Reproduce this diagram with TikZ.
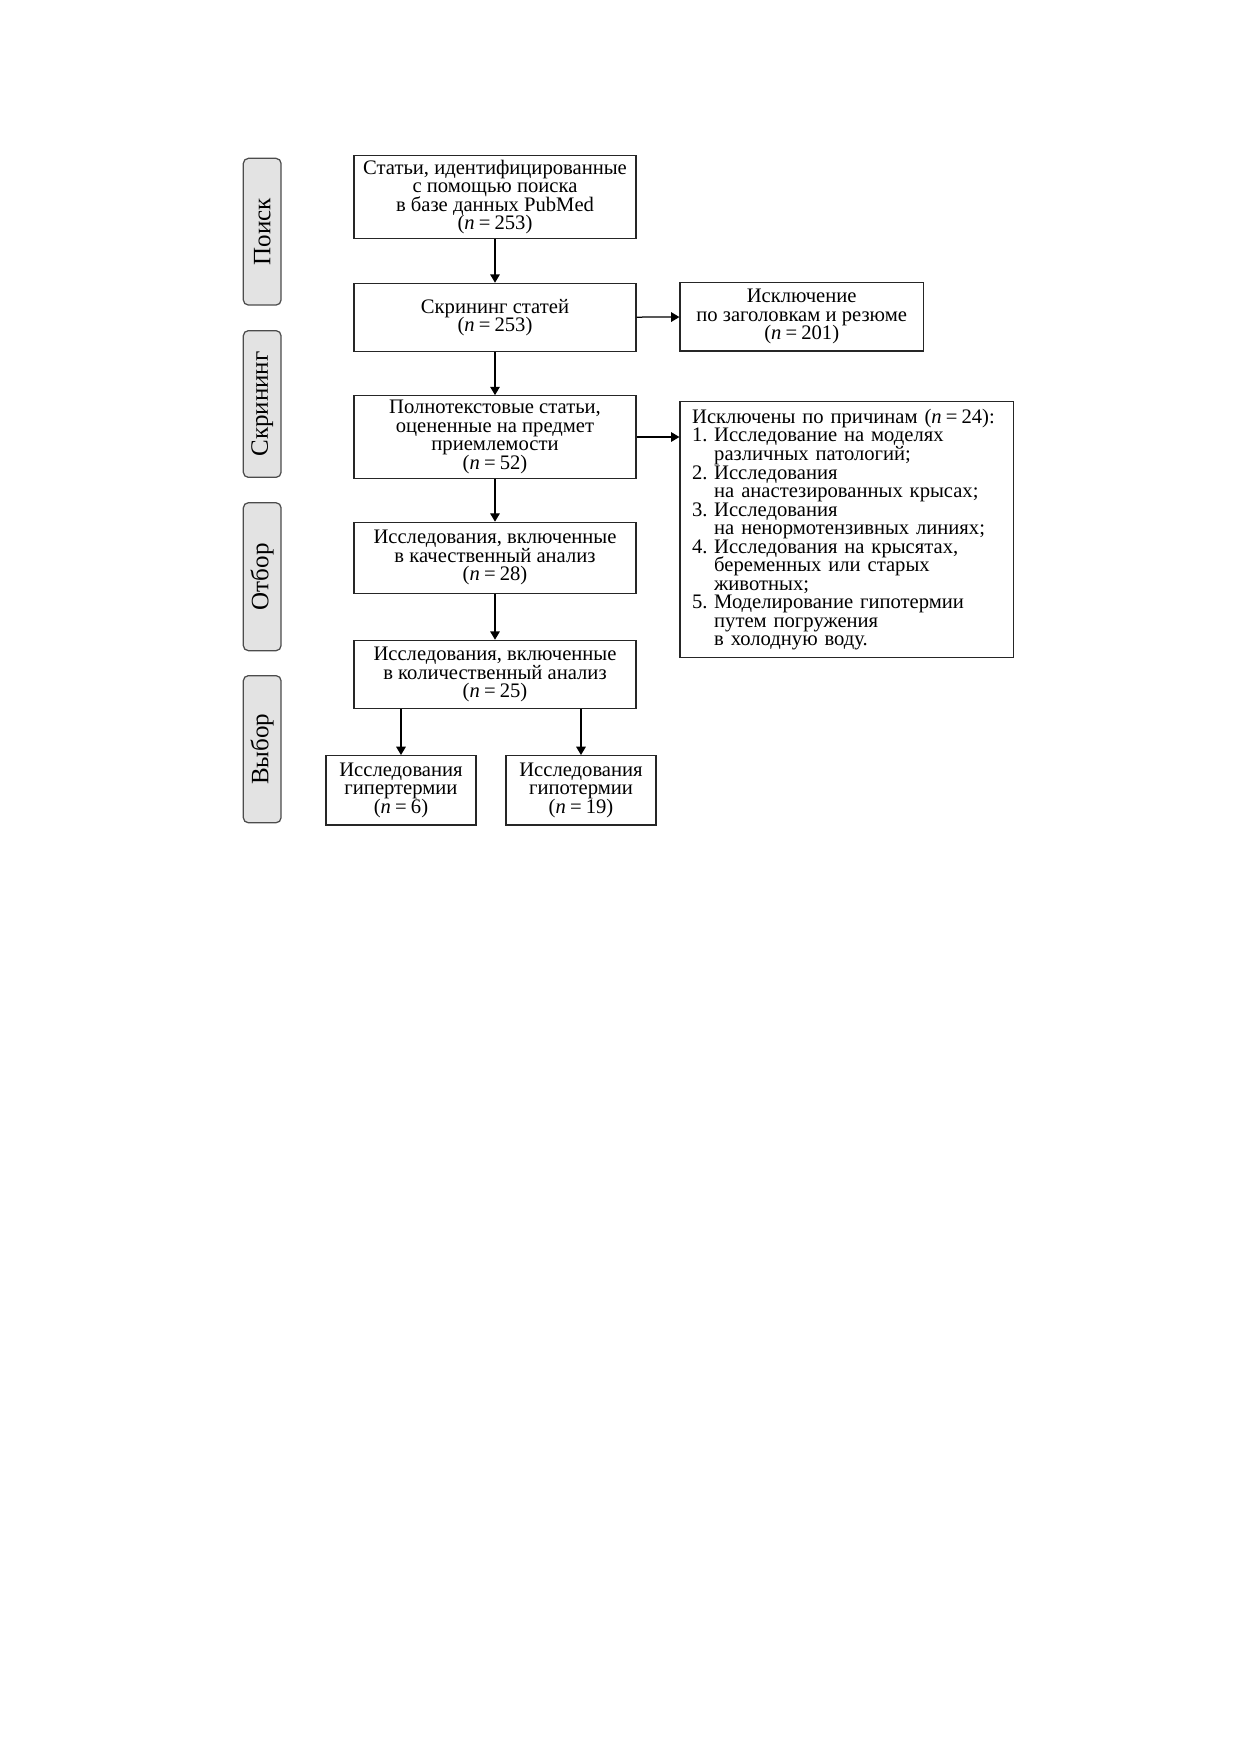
\documentclass[tikz,border=0pt]{standalone}
\usepackage{fontspec}
\setmainfont{Liberation Serif}
\usetikzlibrary{arrows.meta}

\newcommand{\nn}[1]{(\textit{n}\hspace{0.2em}=\hspace{0.2em}#1)}
\newcommand{\itm}[2]{\makebox[10.6pt][l]{#1}#2}
\newcommand{\cnt}[1]{\hspace*{10.6pt}#1}
\newcommand{\boxfont}{\fontsize{9.9}{8.9}\selectfont\lineskiplimit=-20pt\relax}

\begin{document}
\begin{tikzpicture}[x=0.48pt, y=-0.48pt,
		box/.style={draw=black!85, line width=0.6pt, inner sep=0pt, align=center, font=\boxfont},
		stage/.style={draw=black!70, fill=black!11, line width=0.6pt, rounded corners=2.4pt, rotate=90, minimum height=18.1pt, inner sep=0pt, font=\fontsize{12}{12}\selectfont},
		flow/.style={-{Triangle[length=4pt, width=4.6pt]}, line width=0.6pt}]
			\useasboundingbox (0,0) rectangle (1240,1754);

			\node[stage, minimum width=70.4pt] (search) at (262.2,231.7) {Поиск};
			\node[stage, minimum width=70.4pt] (screening) at (262.2,404) {Скрининг};
			\node[stage, minimum width=71pt] (selection) at (262.2,576.7) {Отбор};
			\node[stage, minimum width=70.6pt] (choice) at (262.2,749.2) {Выбор};

			\node[box, minimum width=135.4pt, minimum height=39.6pt] (found) at (495,197) {Статьи, идентифицированные\\с помощью поиска\\в базе данных PubMed\\\nn{253}};
			\node[box, minimum width=135.4pt, minimum height=32.8pt] (screen) at (495,317.5) {Скрининг статей\\\nn{253}};
			\node[box, minimum width=135.4pt, minimum height=39.6pt] (fulltext) at (495,437) {Полнотекстовые статьи,\\оцененные на предмет\\приемлемости\\\nn{52}};
			\node[box, minimum width=135.4pt, minimum height=34.1pt] (qual) at (495,557.8) {Исследования, включенные\\в качественный анализ\\\nn{28}};
			\node[box, minimum width=135.4pt, minimum height=32.8pt] (quant) at (495,674.5) {Исследования, включенные\\в количественный анализ\\\nn{25}};
			\node[box, minimum width=72pt, minimum height=33.3pt] (hyper) at (401,790.3) {Исследования\\гипертермии\\\nn{6}};
			\node[box, minimum width=72pt, minimum height=33.3pt] (hypo) at (581,790.3) {Исследования\\гипотермии\\\nn{19}};

			\node[box, minimum width=116.8pt, minimum height=33pt] (exclA) at (801.7,316.7) {Исключение\\по заголовкам и резюме\\\nn{201}};
			\node[box, text width=148.4pt, inner xsep=5.8pt, minimum height=122.9pt, align=left] (exclB) at (846.7,529.7) {Исключены по причинам \nn{24}:\\
				\itm{1.}{Исследование на моделях}\\\cnt{различных патологий;}\\
				\itm{2.}{Исследования}\\\cnt{на анастезированных крысах;}\\
				\itm{3.}{Исследования}\\\cnt{на ненормотензивных линиях;}\\
				\itm{4.}{Исследования на крысятах,}\\\cnt{беременных или старых}\\\cnt{животных;}\\
				\itm{5.}{Моделирование гипотермии}\\\cnt{путем погружения}\\\cnt{в холодную воду.}};

			\draw[flow] (found) -- (screen);
			\draw[flow] (screen) -- (fulltext);
			\draw[flow] (fulltext) -- (qual);
			\draw[flow] (qual) -- (quant);
			\draw[flow] (quant.south -| hyper) -- (hyper);
			\draw[flow] (quant.south -| hypo) -- (hypo);
			\draw[flow] (screen) -- (exclA);
			\draw[flow] (fulltext.east) -- (fulltext.east -| exclB.west);
\end{tikzpicture}
\end{document}
